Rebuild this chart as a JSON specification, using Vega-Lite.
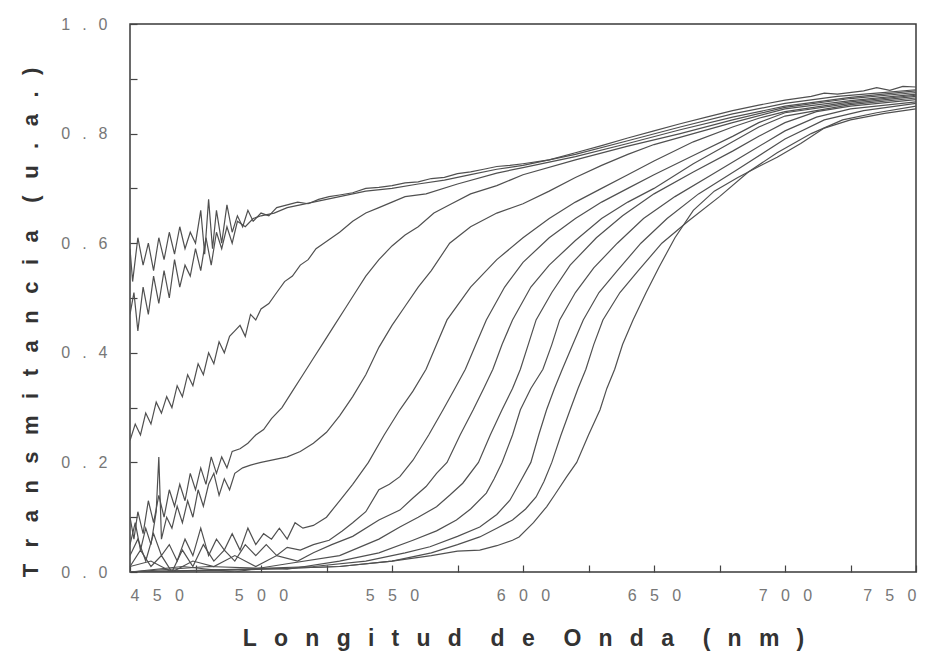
{
  "$schema": "https://vega.github.io/schema/vega-lite/v6.json",
  "autosize": {"type": "none"},
  "padding": {"left": 130, "top": 24, "right": 27, "bottom": 81},
  "width": 786,
  "height": 548,
  "background": "white",
  "config": {
    "font": "Liberation Sans",
    "view": {"stroke": "#3a3a3a", "strokeWidth": 1.5},
    "axis": {"domain": false, "grid": false, "tickColor": "#444", "tickWidth": 1.2, "labelColor": "#777", "labelFontSize": 16, "labelFont": "Liberation Sans", "titleColor": "#333", "titleFont": "Liberation Sans", "titleFontWeight": "bold"}
  },
  "data": {"values": [
    {"c":"A","x":450,"y":0.59},{"c":"A","x":451,"y":0.53},{"c":"A","x":453,"y":0.61},{"c":"A","x":455,"y":0.56},{"c":"A","x":457,"y":0.60},{"c":"A","x":459,"y":0.55},{"c":"A","x":461,"y":0.61},{"c":"A","x":463,"y":0.57},{"c":"A","x":465,"y":0.62},{"c":"A","x":467,"y":0.58},{"c":"A","x":469,"y":0.63},{"c":"A","x":471,"y":0.59},{"c":"A","x":473,"y":0.62},{"c":"A","x":475,"y":0.60},{"c":"A","x":477,"y":0.66},{"c":"A","x":478.5,"y":0.58},{"c":"A","x":480,"y":0.68},{"c":"A","x":481.5,"y":0.59},{"c":"A","x":483,"y":0.66},{"c":"A","x":485,"y":0.60},{"c":"A","x":487,"y":0.67},{"c":"A","x":489,"y":0.62},{"c":"A","x":491,"y":0.65},{"c":"A","x":493,"y":0.63},{"c":"A","x":495,"y":0.66},{"c":"A","x":497,"y":0.64},{"c":"A","x":500,"y":0.655},{"c":"A","x":503,"y":0.65},{"c":"A","x":506,"y":0.665},{"c":"A","x":510,"y":0.67},{"c":"A","x":514,"y":0.675},{"c":"A","x":518,"y":0.672},{"c":"A","x":522,"y":0.68},{"c":"A","x":526,"y":0.685},{"c":"A","x":530,"y":0.688},{"c":"A","x":535,"y":0.692},{"c":"A","x":540,"y":0.70},{"c":"A","x":545,"y":0.702},{"c":"A","x":550,"y":0.705},{"c":"A","x":555,"y":0.71},{"c":"A","x":560,"y":0.712},{"c":"A","x":565,"y":0.718},{"c":"A","x":570,"y":0.72},{"c":"A","x":575,"y":0.727},{"c":"A","x":580,"y":0.73},{"c":"A","x":585,"y":0.735},{"c":"A","x":590,"y":0.74},{"c":"A","x":595,"y":0.742},{"c":"A","x":600,"y":0.745},{"c":"A","x":610,"y":0.752},{"c":"A","x":620,"y":0.765},{"c":"A","x":630,"y":0.778},{"c":"A","x":640,"y":0.792},{"c":"A","x":650,"y":0.805},{"c":"A","x":660,"y":0.818},{"c":"A","x":670,"y":0.83},{"c":"A","x":680,"y":0.842},{"c":"A","x":690,"y":0.852},{"c":"A","x":700,"y":0.861},{"c":"A","x":710,"y":0.868},{"c":"A","x":715,"y":0.874},{"c":"A","x":720,"y":0.872},{"c":"A","x":730,"y":0.878},{"c":"A","x":735,"y":0.884},{"c":"A","x":740,"y":0.879},{"c":"A","x":745,"y":0.886},{"c":"A","x":750,"y":0.885},
    {"c":"B","x":450,"y":0.47},{"c":"B","x":451.5,"y":0.51},{"c":"B","x":453,"y":0.44},{"c":"B","x":455,"y":0.52},{"c":"B","x":457,"y":0.47},{"c":"B","x":459,"y":0.54},{"c":"B","x":461,"y":0.49},{"c":"B","x":463,"y":0.55},{"c":"B","x":465,"y":0.50},{"c":"B","x":467,"y":0.57},{"c":"B","x":469,"y":0.52},{"c":"B","x":471,"y":0.56},{"c":"B","x":473,"y":0.54},{"c":"B","x":475,"y":0.59},{"c":"B","x":477,"y":0.55},{"c":"B","x":479,"y":0.61},{"c":"B","x":481,"y":0.56},{"c":"B","x":483,"y":0.62},{"c":"B","x":485,"y":0.59},{"c":"B","x":487,"y":0.63},{"c":"B","x":489,"y":0.60},{"c":"B","x":491,"y":0.64},{"c":"B","x":494,"y":0.63},{"c":"B","x":497,"y":0.645},{"c":"B","x":500,"y":0.65},{"c":"B","x":505,"y":0.655},{"c":"B","x":510,"y":0.665},{"c":"B","x":520,"y":0.675},{"c":"B","x":530,"y":0.685},{"c":"B","x":540,"y":0.695},{"c":"B","x":550,"y":0.70},{"c":"B","x":560,"y":0.708},{"c":"B","x":570,"y":0.715},{"c":"B","x":580,"y":0.725},{"c":"B","x":590,"y":0.735},{"c":"B","x":600,"y":0.742},{"c":"B","x":620,"y":0.762},{"c":"B","x":640,"y":0.787},{"c":"B","x":660,"y":0.812},{"c":"B","x":680,"y":0.836},{"c":"B","x":700,"y":0.855},{"c":"B","x":720,"y":0.868},{"c":"B","x":735,"y":0.874},{"c":"B","x":750,"y":0.88},
    {"c":"C","x":450,"y":0.24},{"c":"C","x":452,"y":0.27},{"c":"C","x":454,"y":0.25},{"c":"C","x":456,"y":0.29},{"c":"C","x":458,"y":0.27},{"c":"C","x":460,"y":0.31},{"c":"C","x":462,"y":0.29},{"c":"C","x":464,"y":0.32},{"c":"C","x":466,"y":0.30},{"c":"C","x":468,"y":0.34},{"c":"C","x":470,"y":0.32},{"c":"C","x":472,"y":0.36},{"c":"C","x":474,"y":0.34},{"c":"C","x":476,"y":0.38},{"c":"C","x":478,"y":0.36},{"c":"C","x":480,"y":0.40},{"c":"C","x":482,"y":0.38},{"c":"C","x":484,"y":0.42},{"c":"C","x":486,"y":0.40},{"c":"C","x":488,"y":0.43},{"c":"C","x":490,"y":0.44},{"c":"C","x":492,"y":0.45},{"c":"C","x":494,"y":0.43},{"c":"C","x":496,"y":0.47},{"c":"C","x":498,"y":0.46},{"c":"C","x":500,"y":0.48},{"c":"C","x":503,"y":0.49},{"c":"C","x":506,"y":0.51},{"c":"C","x":509,"y":0.53},{"c":"C","x":512,"y":0.54},{"c":"C","x":515,"y":0.56},{"c":"C","x":518,"y":0.57},{"c":"C","x":521,"y":0.59},{"c":"C","x":524,"y":0.60},{"c":"C","x":527,"y":0.61},{"c":"C","x":530,"y":0.62},{"c":"C","x":535,"y":0.64},{"c":"C","x":540,"y":0.655},{"c":"C","x":545,"y":0.665},{"c":"C","x":550,"y":0.675},{"c":"C","x":555,"y":0.685},{"c":"C","x":563,"y":0.69},{"c":"C","x":575,"y":0.708},{"c":"C","x":590,"y":0.728},{"c":"C","x":600,"y":0.738},{"c":"C","x":620,"y":0.758},{"c":"C","x":640,"y":0.782},{"c":"C","x":660,"y":0.807},{"c":"C","x":680,"y":0.83},{"c":"C","x":700,"y":0.85},{"c":"C","x":725,"y":0.866},{"c":"C","x":750,"y":0.878},
    {"c":"D","x":450,"y":0.10},{"c":"D","x":451.5,"y":0.06},{"c":"D","x":453,"y":0.11},{"c":"D","x":455,"y":0.07},{"c":"D","x":457,"y":0.13},{"c":"D","x":459,"y":0.09},{"c":"D","x":461,"y":0.14},{"c":"D","x":463,"y":0.10},{"c":"D","x":465,"y":0.15},{"c":"D","x":467,"y":0.12},{"c":"D","x":469,"y":0.16},{"c":"D","x":471,"y":0.13},{"c":"D","x":473,"y":0.18},{"c":"D","x":475,"y":0.15},{"c":"D","x":477,"y":0.19},{"c":"D","x":479,"y":0.16},{"c":"D","x":481,"y":0.21},{"c":"D","x":483,"y":0.18},{"c":"D","x":485,"y":0.21},{"c":"D","x":487,"y":0.19},{"c":"D","x":489,"y":0.22},{"c":"D","x":492,"y":0.225},{"c":"D","x":495,"y":0.235},{"c":"D","x":498,"y":0.25},{"c":"D","x":501,"y":0.26},{"c":"D","x":504,"y":0.28},{"c":"D","x":508,"y":0.30},{"c":"D","x":512,"y":0.33},{"c":"D","x":516,"y":0.36},{"c":"D","x":520,"y":0.39},{"c":"D","x":524,"y":0.42},{"c":"D","x":528,"y":0.45},{"c":"D","x":532,"y":0.48},{"c":"D","x":536,"y":0.51},{"c":"D","x":540,"y":0.54},{"c":"D","x":545,"y":0.57},{"c":"D","x":550,"y":0.595},{"c":"D","x":555,"y":0.615},{"c":"D","x":560,"y":0.63},{"c":"D","x":566,"y":0.655},{"c":"D","x":572,"y":0.67},{"c":"D","x":580,"y":0.69},{"c":"D","x":590,"y":0.705},{"c":"D","x":600,"y":0.725},{"c":"D","x":620,"y":0.752},{"c":"D","x":640,"y":0.777},{"c":"D","x":660,"y":0.80},{"c":"D","x":680,"y":0.825},{"c":"D","x":700,"y":0.848},{"c":"D","x":725,"y":0.864},{"c":"D","x":750,"y":0.875},
    {"c":"E","x":450,"y":0.05},{"c":"E","x":452,"y":0.09},{"c":"E","x":454,"y":0.04},{"c":"E","x":456,"y":0.08},{"c":"E","x":458,"y":0.05},{"c":"E","x":460,"y":0.11},{"c":"E","x":461,"y":0.21},{"c":"E","x":462,"y":0.06},{"c":"E","x":464,"y":0.10},{"c":"E","x":466,"y":0.08},{"c":"E","x":468,"y":0.12},{"c":"E","x":470,"y":0.09},{"c":"E","x":472,"y":0.13},{"c":"E","x":474,"y":0.10},{"c":"E","x":476,"y":0.15},{"c":"E","x":478,"y":0.12},{"c":"E","x":480,"y":0.16},{"c":"E","x":482,"y":0.18},{"c":"E","x":484,"y":0.14},{"c":"E","x":486,"y":0.17},{"c":"E","x":488,"y":0.15},{"c":"E","x":490,"y":0.18},{"c":"E","x":493,"y":0.19},{"c":"E","x":496,"y":0.195},{"c":"E","x":500,"y":0.20},{"c":"E","x":505,"y":0.205},{"c":"E","x":510,"y":0.21},{"c":"E","x":515,"y":0.22},{"c":"E","x":520,"y":0.235},{"c":"E","x":525,"y":0.255},{"c":"E","x":530,"y":0.285},{"c":"E","x":535,"y":0.32},{"c":"E","x":540,"y":0.36},{"c":"E","x":545,"y":0.41},{"c":"E","x":550,"y":0.45},{"c":"E","x":555,"y":0.485},{"c":"E","x":560,"y":0.52},{"c":"E","x":565,"y":0.55},{"c":"E","x":572,"y":0.60},{"c":"E","x":580,"y":0.63},{"c":"E","x":590,"y":0.655},{"c":"E","x":600,"y":0.672},{"c":"E","x":610,"y":0.695},{"c":"E","x":620,"y":0.72},{"c":"E","x":630,"y":0.742},{"c":"E","x":640,"y":0.762},{"c":"E","x":650,"y":0.78},{"c":"E","x":665,"y":0.80},{"c":"E","x":680,"y":0.82},{"c":"E","x":700,"y":0.845},{"c":"E","x":725,"y":0.86},{"c":"E","x":750,"y":0.872},
    {"c":"F","x":450,"y":0.03},{"c":"F","x":453,"y":0.06},{"c":"F","x":456,"y":0.02},{"c":"F","x":459,"y":0.07},{"c":"F","x":462,"y":0.03},{"c":"F","x":465,"y":0.05},{"c":"F","x":468,"y":0.02},{"c":"F","x":471,"y":0.06},{"c":"F","x":474,"y":0.03},{"c":"F","x":477,"y":0.08},{"c":"F","x":480,"y":0.03},{"c":"F","x":483,"y":0.06},{"c":"F","x":486,"y":0.04},{"c":"F","x":489,"y":0.07},{"c":"F","x":492,"y":0.04},{"c":"F","x":495,"y":0.08},{"c":"F","x":498,"y":0.05},{"c":"F","x":501,"y":0.07},{"c":"F","x":504,"y":0.06},{"c":"F","x":507,"y":0.08},{"c":"F","x":510,"y":0.06},{"c":"F","x":513,"y":0.09},{"c":"F","x":516,"y":0.08},{"c":"F","x":520,"y":0.085},{"c":"F","x":525,"y":0.10},{"c":"F","x":530,"y":0.13},{"c":"F","x":535,"y":0.16},{"c":"F","x":541,"y":0.20},{"c":"F","x":547,"y":0.25},{"c":"F","x":553,"y":0.296},{"c":"F","x":558,"y":0.33},{"c":"F","x":563,"y":0.37},{"c":"F","x":567,"y":0.415},{"c":"F","x":571,"y":0.46},{"c":"F","x":580,"y":0.52},{"c":"F","x":590,"y":0.57},{"c":"F","x":600,"y":0.61},{"c":"F","x":610,"y":0.645},{"c":"F","x":620,"y":0.675},{"c":"F","x":630,"y":0.70},{"c":"F","x":640,"y":0.725},{"c":"F","x":650,"y":0.75},{"c":"F","x":665,"y":0.785},{"c":"F","x":680,"y":0.812},{"c":"F","x":690,"y":0.828},{"c":"F","x":700,"y":0.84},{"c":"F","x":725,"y":0.858},{"c":"F","x":750,"y":0.87},
    {"c":"G","x":450,"y":0.01},{"c":"G","x":454,"y":0.04},{"c":"G","x":458,"y":0.01},{"c":"G","x":462,"y":0.03},{"c":"G","x":466,"y":0.0},{"c":"G","x":470,"y":0.04},{"c":"G","x":474,"y":0.01},{"c":"G","x":478,"y":0.05},{"c":"G","x":482,"y":0.02},{"c":"G","x":486,"y":0.04},{"c":"G","x":490,"y":0.02},{"c":"G","x":494,"y":0.05},{"c":"G","x":498,"y":0.03},{"c":"G","x":502,"y":0.05},{"c":"G","x":506,"y":0.03},{"c":"G","x":510,"y":0.045},{"c":"G","x":515,"y":0.04},{"c":"G","x":520,"y":0.05},{"c":"G","x":526,"y":0.058},{"c":"G","x":531,"y":0.075},{"c":"G","x":535,"y":0.09},{"c":"G","x":540,"y":0.11},{"c":"G","x":545,"y":0.15},{"c":"G","x":549,"y":0.16},{"c":"G","x":553,"y":0.174},{"c":"G","x":558,"y":0.204},{"c":"G","x":564,"y":0.25},{"c":"G","x":569.5,"y":0.296},{"c":"G","x":574,"y":0.335},{"c":"G","x":578,"y":0.37},{"c":"G","x":582,"y":0.415},{"c":"G","x":586,"y":0.46},{"c":"G","x":593,"y":0.52},{"c":"G","x":600,"y":0.565},{"c":"G","x":610,"y":0.61},{"c":"G","x":620,"y":0.645},{"c":"G","x":630,"y":0.675},{"c":"G","x":640,"y":0.70},{"c":"G","x":650,"y":0.725},{"c":"G","x":665,"y":0.76},{"c":"G","x":680,"y":0.795},{"c":"G","x":690,"y":0.82},{"c":"G","x":700,"y":0.838},{"c":"G","x":725,"y":0.855},{"c":"G","x":750,"y":0.868},
    {"c":"H","x":450,"y":0.01},{"c":"H","x":458,"y":0.02},{"c":"H","x":466,"y":0.0},{"c":"H","x":474,"y":0.02},{"c":"H","x":482,"y":0.01},{"c":"H","x":490,"y":0.03},{"c":"H","x":498,"y":0.01},{"c":"H","x":506,"y":0.03},{"c":"H","x":514,"y":0.02},{"c":"H","x":520,"y":0.035},{"c":"H","x":527,"y":0.05},{"c":"H","x":535,"y":0.065},{"c":"H","x":545,"y":0.095},{"c":"H","x":553,"y":0.113},{"c":"H","x":558,"y":0.135},{"c":"H","x":563,"y":0.156},{"c":"H","x":567,"y":0.18},{"c":"H","x":571,"y":0.20},{"c":"H","x":576,"y":0.25},{"c":"H","x":581,"y":0.296},{"c":"H","x":585,"y":0.335},{"c":"H","x":588.5,"y":0.37},{"c":"H","x":592,"y":0.415},{"c":"H","x":596,"y":0.46},{"c":"H","x":603,"y":0.52},{"c":"H","x":610,"y":0.56},{"c":"H","x":620,"y":0.605},{"c":"H","x":630,"y":0.645},{"c":"H","x":640,"y":0.675},{"c":"H","x":650,"y":0.70},{"c":"H","x":665,"y":0.745},{"c":"H","x":680,"y":0.785},{"c":"H","x":690,"y":0.812},{"c":"H","x":700,"y":0.832},{"c":"H","x":725,"y":0.853},{"c":"H","x":750,"y":0.865},
    {"c":"I","x":450,"y":0.0},{"c":"I","x":470,"y":0.01},{"c":"I","x":490,"y":0.0},{"c":"I","x":510,"y":0.015},{"c":"I","x":530,"y":0.03},{"c":"I","x":545,"y":0.06},{"c":"I","x":553,"y":0.082},{"c":"I","x":560,"y":0.10},{"c":"I","x":567,"y":0.119},{"c":"I","x":572,"y":0.14},{"c":"I","x":577,"y":0.162},{"c":"I","x":583,"y":0.20},{"c":"I","x":587.5,"y":0.25},{"c":"I","x":592,"y":0.296},{"c":"I","x":596,"y":0.335},{"c":"I","x":599,"y":0.37},{"c":"I","x":602,"y":0.415},{"c":"I","x":605,"y":0.46},{"c":"I","x":611,"y":0.51},{"c":"I","x":618,"y":0.56},{"c":"I","x":628,"y":0.61},{"c":"I","x":638,"y":0.65},{"c":"I","x":650,"y":0.69},{"c":"I","x":665,"y":0.73},{"c":"I","x":680,"y":0.768},{"c":"I","x":690,"y":0.795},{"c":"I","x":700,"y":0.82},{"c":"I","x":712,"y":0.84},{"c":"I","x":725,"y":0.85},{"c":"I","x":750,"y":0.862},
    {"c":"J","x":450,"y":0.0},{"c":"J","x":480,"y":0.01},{"c":"J","x":510,"y":0.005},{"c":"J","x":530,"y":0.02},{"c":"J","x":545,"y":0.035},{"c":"J","x":558,"y":0.058},{"c":"J","x":567,"y":0.075},{"c":"J","x":574.6,"y":0.095},{"c":"J","x":580,"y":0.115},{"c":"J","x":586,"y":0.144},{"c":"J","x":589,"y":0.17},{"c":"J","x":592,"y":0.20},{"c":"J","x":596,"y":0.25},{"c":"J","x":599,"y":0.296},{"c":"J","x":603,"y":0.335},{"c":"J","x":607.6,"y":0.37},{"c":"J","x":611,"y":0.415},{"c":"J","x":614,"y":0.46},{"c":"J","x":620,"y":0.51},{"c":"J","x":627,"y":0.555},{"c":"J","x":636,"y":0.60},{"c":"J","x":646,"y":0.645},{"c":"J","x":658,"y":0.685},{"c":"J","x":672,"y":0.725},{"c":"J","x":686,"y":0.765},{"c":"J","x":700,"y":0.805},{"c":"J","x":712,"y":0.83},{"c":"J","x":725,"y":0.845},{"c":"J","x":750,"y":0.858},
    {"c":"K","x":450,"y":0.0},{"c":"K","x":490,"y":0.005},{"c":"K","x":520,"y":0.01},{"c":"K","x":540,"y":0.02},{"c":"K","x":555,"y":0.035},{"c":"K","x":564.5,"y":0.046},{"c":"K","x":575,"y":0.065},{"c":"K","x":583.5,"y":0.082},{"c":"K","x":590,"y":0.105},{"c":"K","x":595,"y":0.131},{"c":"K","x":599,"y":0.165},{"c":"K","x":603,"y":0.20},{"c":"K","x":606,"y":0.25},{"c":"K","x":609,"y":0.296},{"c":"K","x":612,"y":0.335},{"c":"K","x":615,"y":0.37},{"c":"K","x":619,"y":0.415},{"c":"K","x":623,"y":0.46},{"c":"K","x":629,"y":0.51},{"c":"K","x":636,"y":0.55},{"c":"K","x":645,"y":0.60},{"c":"K","x":655,"y":0.645},{"c":"K","x":667,"y":0.69},{"c":"K","x":682,"y":0.735},{"c":"K","x":700,"y":0.79},{"c":"K","x":715,"y":0.825},{"c":"K","x":730,"y":0.842},{"c":"K","x":750,"y":0.855},
    {"c":"L","x":450,"y":0.0},{"c":"L","x":500,"y":0.005},{"c":"L","x":530,"y":0.01},{"c":"L","x":550,"y":0.02},{"c":"L","x":565,"y":0.035},{"c":"L","x":575,"y":0.05},{"c":"L","x":583.5,"y":0.064},{"c":"L","x":590,"y":0.08},{"c":"L","x":596,"y":0.095},{"c":"L","x":601,"y":0.115},{"c":"L","x":605,"y":0.137},{"c":"L","x":608,"y":0.165},{"c":"L","x":611,"y":0.20},{"c":"L","x":614.5,"y":0.25},{"c":"L","x":618,"y":0.296},{"c":"L","x":621,"y":0.335},{"c":"L","x":624,"y":0.37},{"c":"L","x":627,"y":0.415},{"c":"L","x":630.5,"y":0.46},{"c":"L","x":637,"y":0.51},{"c":"L","x":644,"y":0.55},{"c":"L","x":653,"y":0.60},{"c":"L","x":663,"y":0.64},{"c":"L","x":675,"y":0.685},{"c":"L","x":686,"y":0.73},{"c":"L","x":697,"y":0.765},{"c":"L","x":710,"y":0.80},{"c":"L","x":722,"y":0.825},{"c":"L","x":735,"y":0.838},{"c":"L","x":750,"y":0.85},
    {"c":"M","x":450,"y":0.0},{"c":"M","x":500,"y":0.005},{"c":"M","x":530,"y":0.01},{"c":"M","x":550,"y":0.02},{"c":"M","x":565,"y":0.03},{"c":"M","x":575,"y":0.038},{"c":"M","x":583.5,"y":0.04},{"c":"M","x":590,"y":0.048},{"c":"M","x":596,"y":0.058},{"c":"M","x":598.5,"y":0.064},{"c":"M","x":604,"y":0.09},{"c":"M","x":609,"y":0.119},{"c":"M","x":612,"y":0.14},{"c":"M","x":616.7,"y":0.174},{"c":"M","x":620.5,"y":0.20},{"c":"M","x":625,"y":0.25},{"c":"M","x":629.4,"y":0.296},{"c":"M","x":632,"y":0.335},{"c":"M","x":635,"y":0.37},{"c":"M","x":638,"y":0.415},{"c":"M","x":642,"y":0.46},{"c":"M","x":647,"y":0.51},{"c":"M","x":652,"y":0.557},{"c":"M","x":658,"y":0.61},{"c":"M","x":665,"y":0.66},{"c":"M","x":673,"y":0.695},{"c":"M","x":682,"y":0.72},{"c":"M","x":690,"y":0.74},{"c":"M","x":697,"y":0.757},{"c":"M","x":706,"y":0.782},{"c":"M","x":715,"y":0.81},{"c":"M","x":725,"y":0.825},{"c":"M","x":738,"y":0.837},{"c":"M","x":750,"y":0.845}
  ]},
  "mark": {"type": "line", "strokeWidth": 1.2, "color": "#505050", "interpolate": "linear", "clip": true},
  "encoding": {
    "detail": {"field": "c", "type": "nominal"},
    "x": {
      "field": "x", "type": "quantitative",
      "scale": {"domain": [450, 750], "nice": false, "zero": false},
      "axis": {
        "values": [450, 475, 500, 525, 550, 575, 600, 625, 650, 675, 700, 725, 750],
        "tickSize": -7,
        "labelPadding": 22,
        "labelExpr": "datum.value % 50 === 0 ? substring(toString(datum.value),0,1) + '\u2002\u2004' + substring(toString(datum.value),1,2) + '\u2002\u2004' + substring(toString(datum.value),2,3) : ''",
        "title": "L\u2002\u2005o\u2002\u2005n\u2002\u2005g\u2002\u2005i\u2002\u2005t\u2002\u2005u\u2002\u2005d\u2003\u2005d\u2002\u2005e\u2003\u2005O\u2002\u2005n\u2002\u2005d\u2002\u2005a\u2003\u2005(\u2002\u2005n\u2002\u2005m\u2002\u2005)",
        "titleFontSize": 23,
        "titleBaseline": "alphabetic",
        "titleY": 73
      }
    },
    "y": {
      "field": "y", "type": "quantitative",
      "scale": {"domain": [0, 1], "nice": false, "zero": true},
      "axis": {
        "values": [0, 0.1, 0.2, 0.3, 0.4, 0.5, 0.6, 0.7, 0.8, 0.9, 1.0],
        "tickSize": -7,
        "labelPadding": 30,
        "labelExpr": "round(datum.value*10) % 2 === 0 ? substring(format(datum.value,'.1f'),0,1) + '\u2002\u2005.\u2002\u2005' + substring(format(datum.value,'.1f'),2,3) : ''",
        "title": "T\u2002\u2005r\u2002\u2005a\u2002\u2005n\u2002\u2005s\u2002\u2005m\u2002\u2005i\u2002\u2005t\u2002\u2005a\u2002\u2005n\u2002\u2005c\u2002\u2005i\u2002\u2005a\u2003\u2005(\u2002\u2005u\u2002\u2005.\u2002\u2005a\u2002\u2005.\u2002\u2005)",
        "titleFontSize": 22,
        "titleBaseline": "alphabetic",
        "titleX": -93,
        "titleY": 298
      }
    }
  }
}
